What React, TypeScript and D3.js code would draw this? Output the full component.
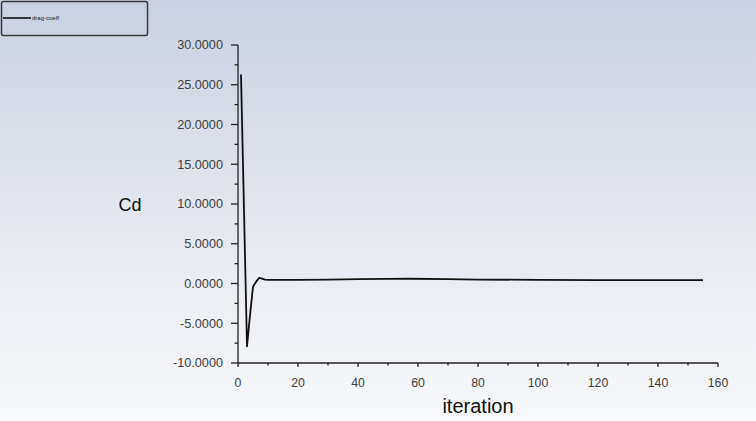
import React from "react";
import * as d3 from "d3";

const iterations = [1, 2, 3, 4, 5, 6, 7, 8, 9, 10, 20, 30, 40, 50, 57, 70, 80, 100, 120, 140, 155];
const dragCoeff = [26.3, 9.2, -7.9, -4.0, -0.4, 0.2, 0.7, 0.6, 0.5, 0.45, 0.45, 0.5, 0.55, 0.58, 0.6, 0.55, 0.5, 0.45, 0.42, 0.42, 0.42];
const xMajorTicks = [0, 20, 40, 60, 80, 100, 120, 140, 160];
const xMinorTicks = [10, 30, 50, 70, 90, 110, 130, 150];
const yMajorTicks = [-10, -5, 0, 5, 10, 15, 20, 25, 30];
const yMinorTicks = [-7.5, -2.5, 2.5, 7.5, 12.5, 17.5, 22.5, 27.5];
const seriesName = "drag-coeff";

const W = 756;
const H = 421;

export default function App() {
  const x = d3.scaleLinear().domain([0, 160]).range([238, 718]);
  const y = d3.scaleLinear().domain([-10, 30]).range([363, 45]);
  const line = d3
    .line<number>()
    .x((_, i) => x(iterations[i]))
    .y((d) => y(d));
  const font = "'Liberation Sans', Arial, sans-serif";
  return (
    <svg
      width={W}
      height={H}
      style={{ position: "fixed", left: 0, top: 0 }}
      fontFamily={font}
    >
      <defs>
        <linearGradient id="bg" x1="0" y1="0" x2="0" y2="1">
          <stop offset="0" stopColor="#c9d1e0" />
          <stop offset="0.5" stopColor="#e3e6ee" />
          <stop offset="1" stopColor="#f8f9fc" />
        </linearGradient>
      </defs>
      <rect x={0} y={0} width={W} height={H} fill="url(#bg)" />

      {/* legend */}
      <rect x={1.5} y={1.5} width={146} height={34} rx={2} fill="none" stroke="#3a3a3a" strokeWidth={1.5} />
      <line x1={3} x2={31} y1={18} y2={18} stroke="#111" strokeWidth={1.6} />
      <text x={32} y={20} fontSize={6} fill="#222">{seriesName}</text>

      {/* y axis */}
      <line x1={x(0)} x2={x(0)} y1={y(-10)} y2={y(30)} stroke="#222" strokeWidth={1.3} />
      {yMajorTicks.map((t) => (
        <g key={"ym" + t}>
          <line x1={x(0) - 7} x2={x(0)} y1={y(t)} y2={y(t)} stroke="#222" strokeWidth={1.3} />
          <text x={x(0) - 15} y={y(t)} dy="0.35em" textAnchor="end" fontSize={12.7} fill="#404040">
            {t.toFixed(4)}
          </text>
        </g>
      ))}
      {yMinorTicks.map((t) => (
        <line key={"yn" + t} x1={x(0) - 3.5} x2={x(0)} y1={y(t)} y2={y(t)} stroke="#222" strokeWidth={1.3} />
      ))}

      {/* x axis */}
      <line x1={x(0)} x2={x(160)} y1={y(-10)} y2={y(-10)} stroke="#222" strokeWidth={1.3} />
      {xMajorTicks.map((t) => (
        <g key={"xm" + t}>
          <line x1={x(t)} x2={x(t)} y1={y(-10)} y2={y(-10) + 4} stroke="#222" strokeWidth={1.3} />
          <text x={x(t)} y={383} dy="0.35em" textAnchor="middle" fontSize={12.3} fill="#404040">
            {t}
          </text>
        </g>
      ))}
      {xMinorTicks.map((t) => (
        <line key={"xn" + t} x1={x(t)} x2={x(t)} y1={y(-10)} y2={y(-10) + 2.5} stroke="#222" strokeWidth={1.3} />
      ))}

      {/* axis titles */}
      <text x={130} y={211} textAnchor="middle" fontSize={18} fill="#111">Cd</text>
      <text x={478} y={413} textAnchor="middle" fontSize={20} fill="#111">iteration</text>

      {/* data */}
      <path d={line(dragCoeff) || ""} fill="none" stroke="#111" strokeWidth={1.8} strokeLinejoin="round" />
    </svg>
  );
}
